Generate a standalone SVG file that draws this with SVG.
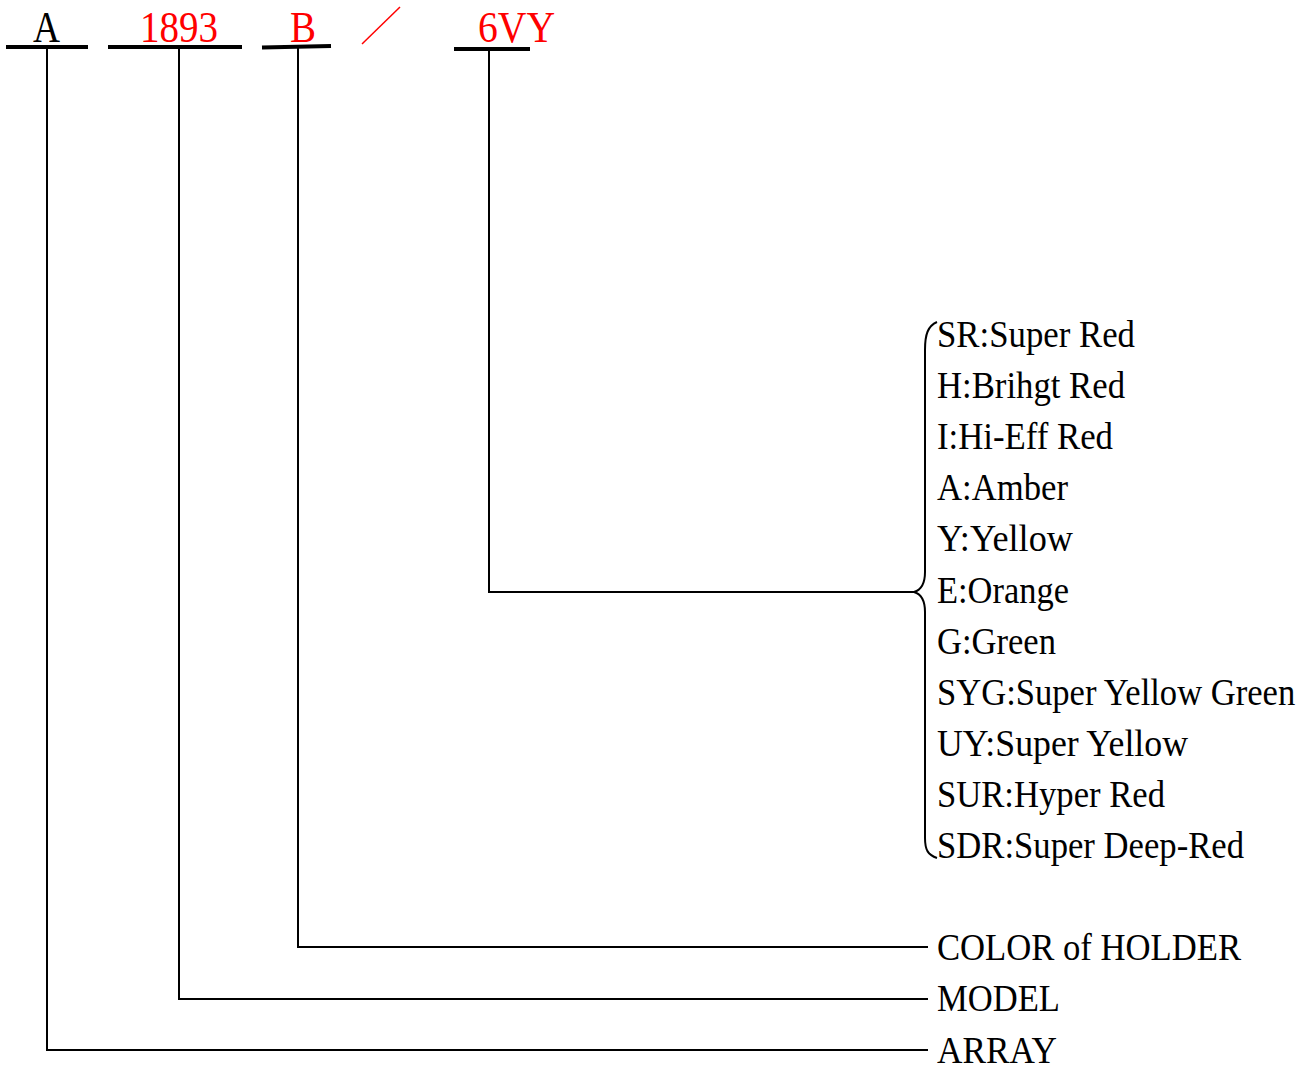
<svg xmlns="http://www.w3.org/2000/svg" width="1314" height="1070" viewBox="0 0 1314 1070">
<style>
text{font-family:"Liberation Serif","DejaVu Serif",serif;}
.lbl{font-size:37px;fill:#000;}
.top{font-size:44px;}
.red{fill:#ff0000;}
.blk{fill:#000;}
.ln{stroke:#000;stroke-width:2;fill:none;}
.ul{stroke:#000;stroke-width:4;fill:none;}
</style>
<rect width="1314" height="1070" fill="#fff"/>
<g id="code">
<g id="n-A"><text class="top blk" x="33" y="42" textLength="27" lengthAdjust="spacingAndGlyphs">A</text><line class="ul" x1="6" y1="47" x2="88" y2="47"/></g>
<g id="n-1893"><text class="top red" x="140" y="42" textLength="78" lengthAdjust="spacingAndGlyphs">1893</text><line class="ul" x1="108" y1="47" x2="242" y2="47"/></g>
<g id="n-B"><text class="top red" x="290" y="42" textLength="26" lengthAdjust="spacingAndGlyphs">B</text><line class="ul" x1="262" y1="47.5" x2="331" y2="46"/></g>
<line id="slash" x1="362" y1="44" x2="400" y2="7" stroke="#ff0000" stroke-width="1.5"/>
<g id="n-6VY"><text class="top red" x="478" y="42" textLength="77" lengthAdjust="spacingAndGlyphs">6VY</text><line class="ul" x1="454" y1="49" x2="530" y2="49"/></g>
</g>
<g id="connectors">
<polyline class="ln" points="47,47 47,1050 928,1050"/>
<polyline class="ln" points="179,47 179,999 928,999"/>
<polyline class="ln" points="298,47 298,947 928,947"/>
<polyline class="ln" points="489,49 489,592 914,592"/>
<path class="ln" d="M937,322 C928,326 925,334 925,350 L925,572 C925,584 921,590 914,592 C921,594 925,600 925,612 L925,838 C925,850 928,855 937,858"/>
</g>
<g id="colors">
<text class="lbl" x="937" y="347" textLength="198" lengthAdjust="spacingAndGlyphs">SR:Super Red</text>
<text class="lbl" x="937" y="398" textLength="188" lengthAdjust="spacingAndGlyphs">H:Brihgt Red</text>
<text class="lbl" x="937" y="449" textLength="176" lengthAdjust="spacingAndGlyphs">I:Hi-Eff Red</text>
<text class="lbl" x="937" y="500" textLength="131" lengthAdjust="spacingAndGlyphs">A:Amber</text>
<text class="lbl" x="937" y="551" textLength="136" lengthAdjust="spacingAndGlyphs">Y:Yellow</text>
<text class="lbl" x="937" y="603" textLength="132" lengthAdjust="spacingAndGlyphs">E:Orange</text>
<text class="lbl" x="937" y="654" textLength="119" lengthAdjust="spacingAndGlyphs">G:Green</text>
<text class="lbl" transform="translate(937,705) scale(0.935,1)" x="0" y="0">SYG:Super Yellow Green</text>
<text class="lbl" x="937" y="756" textLength="251" lengthAdjust="spacingAndGlyphs">UY:Super Yellow</text>
<text class="lbl" x="937" y="807" textLength="228" lengthAdjust="spacingAndGlyphs">SUR:Hyper Red</text>
<text class="lbl" x="937" y="858" textLength="307" lengthAdjust="spacingAndGlyphs">SDR:Super Deep-Red</text>
</g>
<g id="labels">
<text class="lbl" x="937" y="960" textLength="304" lengthAdjust="spacingAndGlyphs">COLOR of HOLDER</text>
<text class="lbl" x="937" y="1011" textLength="123" lengthAdjust="spacingAndGlyphs">MODEL</text>
<text class="lbl" x="937" y="1063" textLength="120" lengthAdjust="spacingAndGlyphs">ARRAY</text>
</g>
</svg>
